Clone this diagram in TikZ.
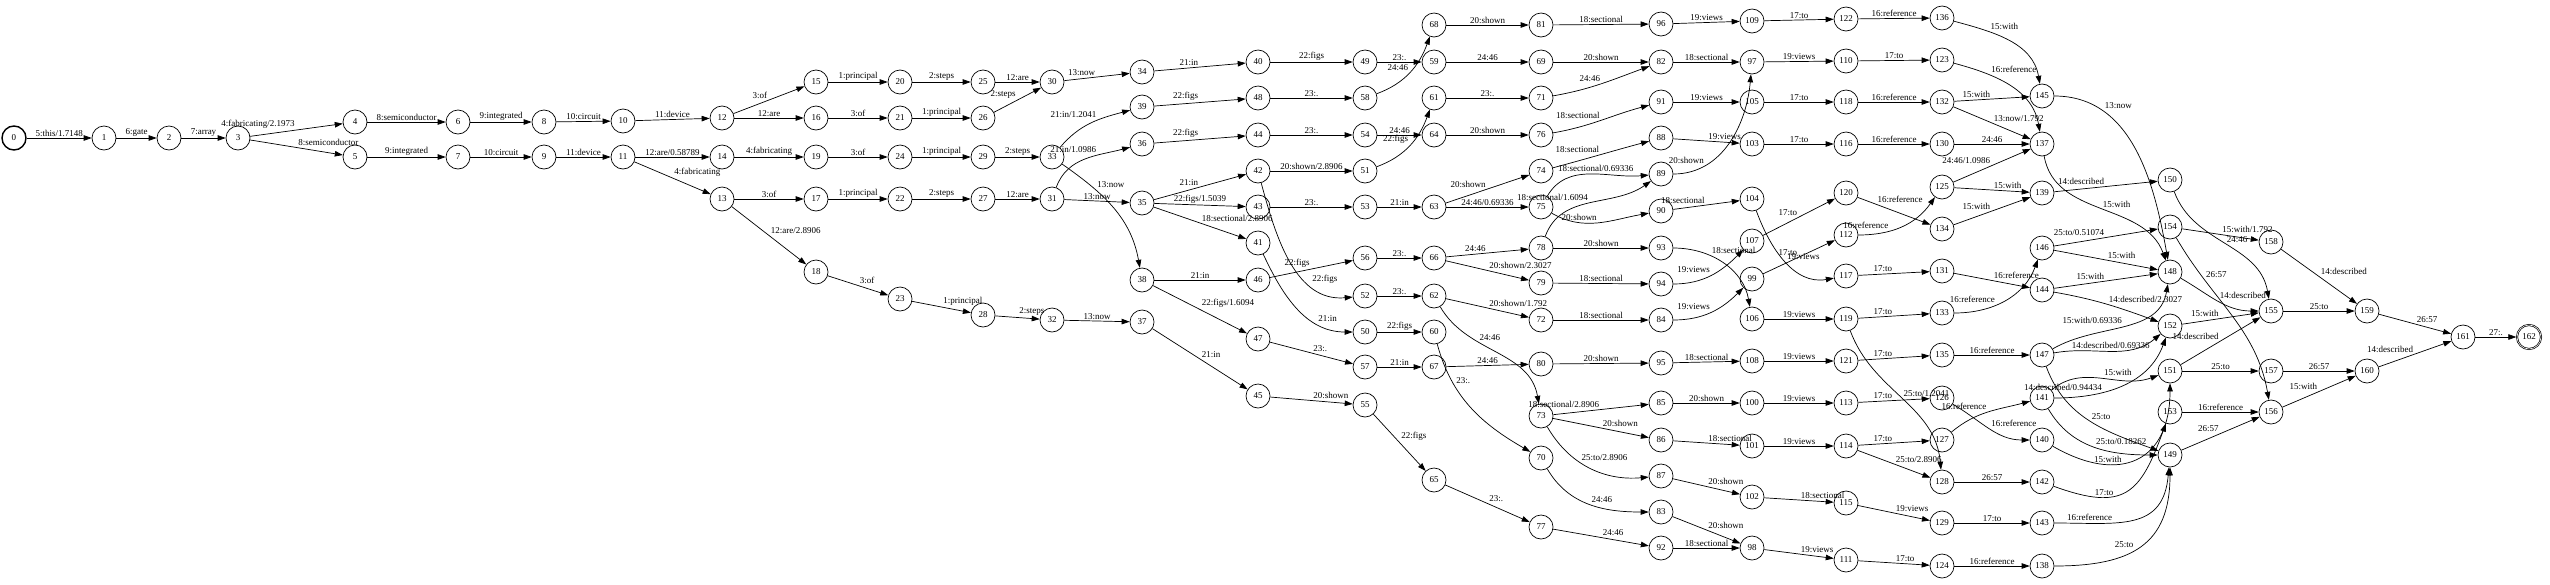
\documentclass[tikz,border=0pt]{standalone}
\usepackage{fontspec}
\setmainfont{Liberation Serif}
\usetikzlibrary{arrows.meta, automata, positioning}

\begin{document}
\begin{tikzpicture}[x=1pt,y=1pt,auto,>={Triangle[length=8pt,width=5.5pt]},
    font=\fontsize{9}{10}\selectfont,inner sep=1.5pt,line width=0.7pt]
  \tikzstyle{every state}=[minimum size=24pt,inner sep=0pt,line width=0.7pt]
  \tikzstyle{every accepting state}=[double distance=3pt,minimum size=28pt]
  \useasboundingbox (0,0) rectangle (2550,-584);

  \node[state,line width=1.4pt] (q_0) at (14,-138) {0};
  \node[state] (q_1) at (104,-138) {1};
  \node[state] (q_2) at (169,-138) {2};
  \node[state] (q_3) at (238,-138) {3};
  \node[state] (q_4) at (355,-122) {4};
  \node[state] (q_5) at (355,-157) {5};
  \node[state] (q_6) at (458,-122) {6};
  \node[state] (q_7) at (458,-157) {7};
  \node[state] (q_8) at (544,-122) {8};
  \node[state] (q_9) at (544,-157) {9};
  \node[state] (q_10) at (623,-121) {10};
  \node[state] (q_11) at (623,-157) {11};
  \node[state] (q_12) at (722,-118) {12};
  \node[state] (q_13) at (722,-199) {13};
  \node[state] (q_14) at (722,-157) {14};
  \node[state] (q_15) at (816,-82) {15};
  \node[state] (q_16) at (816,-118) {16};
  \node[state] (q_17) at (816,-199) {17};
  \node[state] (q_18) at (816,-272) {18};
  \node[state] (q_19) at (816,-157) {19};
  \node[state] (q_20) at (900,-82) {20};
  \node[state] (q_21) at (900,-118) {21};
  \node[state] (q_22) at (900,-199) {22};
  \node[state] (q_23) at (900,-299) {23};
  \node[state] (q_24) at (900,-157) {24};
  \node[state] (q_25) at (983,-82) {25};
  \node[state] (q_26) at (983,-118) {26};
  \node[state] (q_27) at (983,-199) {27};
  \node[state] (q_28) at (983,-315) {28};
  \node[state] (q_29) at (983,-157) {29};
  \node[state] (q_30) at (1052,-82) {30};
  \node[state] (q_31) at (1052,-199) {31};
  \node[state] (q_32) at (1052,-320) {32};
  \node[state] (q_33) at (1052,-157) {33};
  \node[state] (q_34) at (1142,-72) {34};
  \node[state] (q_35) at (1142,-203) {35};
  \node[state] (q_36) at (1142,-144) {36};
  \node[state] (q_37) at (1142,-322) {37};
  \node[state] (q_38) at (1142,-280) {38};
  \node[state] (q_39) at (1142,-107) {39};
  \node[state] (q_40) at (1258,-62) {40};
  \node[state] (q_41) at (1258,-243) {41};
  \node[state] (q_42) at (1258,-171) {42};
  \node[state] (q_43) at (1258,-207) {43};
  \node[state] (q_44) at (1258,-135) {44};
  \node[state] (q_45) at (1258,-396) {45};
  \node[state] (q_46) at (1258,-280) {46};
  \node[state] (q_47) at (1258,-339) {47};
  \node[state] (q_48) at (1258,-98) {48};
  \node[state] (q_49) at (1365,-62) {49};
  \node[state] (q_50) at (1365,-332) {50};
  \node[state] (q_51) at (1365,-171) {51};
  \node[state] (q_52) at (1365,-296) {52};
  \node[state] (q_53) at (1365,-207) {53};
  \node[state] (q_54) at (1365,-135) {54};
  \node[state] (q_55) at (1365,-405) {55};
  \node[state] (q_56) at (1365,-258) {56};
  \node[state] (q_57) at (1365,-367) {57};
  \node[state] (q_58) at (1365,-98) {58};
  \node[state] (q_59) at (1434,-62) {59};
  \node[state] (q_60) at (1434,-332) {60};
  \node[state] (q_61) at (1434,-98) {61};
  \node[state] (q_62) at (1434,-296) {62};
  \node[state] (q_63) at (1434,-207) {63};
  \node[state] (q_64) at (1434,-135) {64};
  \node[state] (q_65) at (1434,-480) {65};
  \node[state] (q_66) at (1434,-258) {66};
  \node[state] (q_67) at (1434,-367) {67};
  \node[state] (q_68) at (1434,-25) {68};
  \node[state] (q_69) at (1541,-62) {69};
  \node[state] (q_70) at (1541,-458) {70};
  \node[state] (q_71) at (1541,-98) {71};
  \node[state] (q_72) at (1541,-320) {72};
  \node[state] (q_73) at (1541,-416) {73};
  \node[state] (q_74) at (1541,-171) {74};
  \node[state] (q_75) at (1541,-207) {75};
  \node[state] (q_76) at (1541,-135) {76};
  \node[state] (q_77) at (1541,-527) {77};
  \node[state] (q_78) at (1541,-248) {78};
  \node[state] (q_79) at (1541,-283) {79};
  \node[state] (q_80) at (1541,-364) {80};
  \node[state] (q_81) at (1541,-25) {81};
  \node[state] (q_82) at (1661,-62) {82};
  \node[state] (q_83) at (1661,-512) {83};
  \node[state] (q_84) at (1661,-320) {84};
  \node[state] (q_85) at (1661,-403) {85};
  \node[state] (q_86) at (1661,-440) {86};
  \node[state] (q_87) at (1661,-476) {87};
  \node[state] (q_88) at (1661,-138) {88};
  \node[state] (q_89) at (1661,-174) {89};
  \node[state] (q_90) at (1661,-211) {90};
  \node[state] (q_91) at (1661,-102) {91};
  \node[state] (q_92) at (1661,-548) {92};
  \node[state] (q_93) at (1661,-248) {93};
  \node[state] (q_94) at (1661,-284) {94};
  \node[state] (q_95) at (1661,-363) {95};
  \node[state] (q_96) at (1661,-24) {96};
  \node[state] (q_97) at (1752,-62) {97};
  \node[state] (q_98) at (1752,-548) {98};
  \node[state] (q_99) at (1752,-279) {99};
  \node[state] (q_100) at (1752,-403) {100};
  \node[state] (q_101) at (1752,-446) {101};
  \node[state] (q_102) at (1752,-497) {102};
  \node[state] (q_103) at (1752,-144) {103};
  \node[state] (q_104) at (1752,-199) {104};
  \node[state] (q_105) at (1752,-102) {105};
  \node[state] (q_106) at (1752,-319) {106};
  \node[state] (q_107) at (1752,-241) {107};
  \node[state] (q_108) at (1752,-361) {108};
  \node[state] (q_109) at (1752,-21) {109};
  \node[state] (q_110) at (1846,-61) {110};
  \node[state] (q_111) at (1846,-560) {111};
  \node[state] (q_112) at (1846,-235) {112};
  \node[state] (q_113) at (1846,-403) {113};
  \node[state] (q_114) at (1846,-446) {114};
  \node[state] (q_115) at (1846,-503) {115};
  \node[state] (q_116) at (1846,-144) {116};
  \node[state] (q_117) at (1846,-276) {117};
  \node[state] (q_118) at (1846,-102) {118};
  \node[state] (q_119) at (1846,-319) {119};
  \node[state] (q_120) at (1846,-193) {120};
  \node[state] (q_121) at (1846,-361) {121};
  \node[state] (q_122) at (1846,-19) {122};
  \node[state] (q_123) at (1942,-60) {123};
  \node[state] (q_124) at (1942,-566) {124};
  \node[state] (q_125) at (1942,-187) {125};
  \node[state] (q_126) at (1942,-398) {126};
  \node[state] (q_127) at (1942,-440) {127};
  \node[state] (q_128) at (1942,-482) {128};
  \node[state] (q_129) at (1942,-523) {129};
  \node[state] (q_130) at (1942,-144) {130};
  \node[state] (q_131) at (1942,-271) {131};
  \node[state] (q_132) at (1942,-102) {132};
  \node[state] (q_133) at (1942,-313) {133};
  \node[state] (q_134) at (1942,-229) {134};
  \node[state] (q_135) at (1942,-355) {135};
  \node[state] (q_136) at (1942,-18) {136};
  \node[state] (q_137) at (2042,-144) {137};
  \node[state] (q_138) at (2042,-566) {138};
  \node[state] (q_139) at (2042,-193) {139};
  \node[state] (q_140) at (2042,-440) {140};
  \node[state] (q_141) at (2042,-398) {141};
  \node[state] (q_142) at (2042,-482) {142};
  \node[state] (q_143) at (2042,-523) {143};
  \node[state] (q_144) at (2042,-290) {144};
  \node[state] (q_145) at (2042,-96) {145};
  \node[state] (q_146) at (2042,-248) {146};
  \node[state] (q_147) at (2042,-355) {147};
  \node[state] (q_148) at (2170,-272) {148};
  \node[state] (q_149) at (2170,-455) {149};
  \node[state] (q_150) at (2170,-180) {150};
  \node[state] (q_151) at (2170,-371) {151};
  \node[state] (q_152) at (2170,-326) {152};
  \node[state] (q_153) at (2170,-412) {153};
  \node[state] (q_154) at (2170,-227) {154};
  \node[state] (q_155) at (2271,-311) {155};
  \node[state] (q_156) at (2271,-412) {156};
  \node[state] (q_157) at (2271,-371) {157};
  \node[state] (q_158) at (2271,-242) {158};
  \node[state] (q_159) at (2367,-311) {159};
  \node[state] (q_160) at (2367,-371) {160};
  \node[state] (q_161) at (2463,-337) {161};
  \node[state,accepting] (q_162) at (2529,-337) {162};

  \path[->]
  (q_0) edge node {5:this/1.7148} (q_1)
  (q_1) edge node {6:gate} (q_2)
  (q_2) edge node {7:array} (q_3)
  (q_3) edge node {4:fabricating/2.1973} (q_4)
  (q_3) edge node {8:semiconductor} (q_5)
  (q_4) edge node {8:semiconductor} (q_6)
  (q_5) edge node {9:integrated} (q_7)
  (q_6) edge node {9:integrated} (q_8)
  (q_7) edge node {10:circuit} (q_9)
  (q_8) edge node {10:circuit} (q_10)
  (q_9) edge node {11:device} (q_11)
  (q_10) edge node {11:device} (q_12)
  (q_11) edge node {12:are/0.58789} (q_14)
  (q_11) edge node {4:fabricating} (q_13)
  (q_12) edge node {3:of} (q_15)
  (q_12) edge node {12:are} (q_16)
  (q_13) edge node {3:of} (q_17)
  (q_13) edge node {12:are/2.8906} (q_18)
  (q_14) edge node {4:fabricating} (q_19)
  (q_15) edge node {1:principal} (q_20)
  (q_16) edge node {3:of} (q_21)
  (q_17) edge node {1:principal} (q_22)
  (q_18) edge node {3:of} (q_23)
  (q_19) edge node {3:of} (q_24)
  (q_20) edge node {2:steps} (q_25)
  (q_21) edge node {1:principal} (q_26)
  (q_22) edge node {2:steps} (q_27)
  (q_23) edge node {1:principal} (q_28)
  (q_24) edge node {1:principal} (q_29)
  (q_25) edge node {12:are} (q_30)
  (q_26) edge node {2:steps} (q_30)
  (q_27) edge node {12:are} (q_31)
  (q_28) edge node {2:steps} (q_32)
  (q_29) edge node {2:steps} (q_33)
  (q_30) edge node {13:now} (q_34)
  (q_31) edge node {13:now} (q_35)
  (q_31) edge [out=70,in=195] node[pos=0.65] {21:in/1.0986} (q_36)
  (q_32) edge node {13:now} (q_37)
  (q_33) edge [out=50,in=195] node[pos=0.6] {21:in/1.2041} (q_39)
  (q_33) edge [out=-35,in=100] node[pos=0.3] {13:now} (q_38)
  (q_34) edge node {21:in} (q_40)
  (q_35) edge node {21:in} (q_42)
  (q_35) edge node {22:figs/1.5039} (q_43)
  (q_35) edge node {18:sectional/2.8906} (q_41)
  (q_36) edge node {22:figs} (q_44)
  (q_37) edge node {21:in} (q_45)
  (q_38) edge node {21:in} (q_46)
  (q_38) edge node {22:figs/1.6094} (q_47)
  (q_39) edge node {22:figs} (q_48)
  (q_40) edge node {22:figs} (q_49)
  (q_41) edge [out=-65,in=180] node[pos=0.7] {21:in} (q_50)
  (q_42) edge [out=-75,in=185] node[pos=0.7] {22:figs} (q_52)
  (q_42) edge node {20:shown/2.8906} (q_51)
  (q_43) edge node {23:.} (q_53)
  (q_44) edge node {23:.} (q_54)
  (q_45) edge node {20:shown} (q_55)
  (q_46) edge node {22:figs} (q_56)
  (q_47) edge node {23:.} (q_57)
  (q_48) edge node {23:.} (q_58)
  (q_49) edge node {23:.} (q_59)
  (q_50) edge node {22:figs} (q_60)
  (q_51) edge [out=20,in=250] node {22:figs} (q_61)
  (q_52) edge node {23:.} (q_62)
  (q_53) edge node {21:in} (q_63)
  (q_54) edge node {24:46} (q_64)
  (q_55) edge node {22:figs} (q_65)
  (q_56) edge node {23:.} (q_66)
  (q_57) edge node {21:in} (q_67)
  (q_58) edge [out=20,in=250] node {24:46} (q_68)
  (q_59) edge node {24:46} (q_69)
  (q_60) edge [out=-75,in=150] node[pos=0.3] {23:.} (q_70)
  (q_61) edge node {23:.} (q_71)
  (q_62) edge node {20:shown/1.792} (q_72)
  (q_62) edge [out=-60,in=100] node[pos=0.35] {24:46} (q_73)
  (q_63) edge node {20:shown} (q_74)
  (q_63) edge node {24:46/0.69336} (q_75)
  (q_64) edge node {20:shown} (q_76)
  (q_65) edge node {23:.} (q_77)
  (q_66) edge node {24:46} (q_78)
  (q_66) edge node {20:shown/2.3027} (q_79)
  (q_67) edge node {24:46} (q_80)
  (q_68) edge node {20:shown} (q_81)
  (q_69) edge node {20:shown} (q_82)
  (q_70) edge [out=-60,in=180] node {24:46} (q_83)
  (q_71) edge [out=10,in=200] node {24:46} (q_82)
  (q_72) edge node {18:sectional} (q_84)
  (q_73) edge node {18:sectional/2.8906} (q_85)
  (q_73) edge node {20:shown} (q_86)
  (q_73) edge [out=-60,in=185] node[pos=0.4] {25:to/2.8906} (q_87)
  (q_74) edge [out=15,in=195] node {18:sectional} (q_88)
  (q_75) edge [out=60,in=185] node[pos=0.55] {18:sectional/0.69336} (q_89)
  (q_75) edge [out=-30,in=190] node {20:shown} (q_90)
  (q_76) edge [out=10,in=195] node {18:sectional} (q_91)
  (q_77) edge node {24:46} (q_92)
  (q_78) edge [out=70,in=215] node {18:sectional/1.6094} (q_89)
  (q_78) edge node {20:shown} (q_93)
  (q_79) edge node {18:sectional} (q_94)
  (q_80) edge node {20:shown} (q_95)
  (q_81) edge node {18:sectional} (q_96)
  (q_82) edge node {18:sectional} (q_97)
  (q_83) edge node {20:shown} (q_98)
  (q_84) edge [out=0,in=225] node {19:views} (q_99)
  (q_85) edge node {20:shown} (q_100)
  (q_86) edge node {18:sectional} (q_101)
  (q_87) edge node {20:shown} (q_102)
  (q_88) edge node {19:views} (q_103)
  (q_89) edge [out=0,in=265] node[pos=0.25] {20:shown} (q_97)
  (q_90) edge node {18:sectional} (q_104)
  (q_91) edge node {19:views} (q_105)
  (q_92) edge node {18:sectional} (q_98)
  (q_93) edge [out=0,in=100] node[pos=0.35] {18:sectional} (q_106)
  (q_94) edge [out=0,in=225] node {19:views} (q_107)
  (q_95) edge node {18:sectional} (q_108)
  (q_96) edge node {19:views} (q_109)
  (q_97) edge node {19:views} (q_110)
  (q_98) edge node {19:views} (q_111)
  (q_99) edge node {17:to} (q_112)
  (q_100) edge node {19:views} (q_113)
  (q_101) edge node {19:views} (q_114)
  (q_102) edge node {18:sectional} (q_115)
  (q_103) edge node {17:to} (q_116)
  (q_104) edge [out=-70,in=190] node {19:views} (q_117)
  (q_105) edge node {17:to} (q_118)
  (q_106) edge node {19:views} (q_119)
  (q_107) edge node {17:to} (q_120)
  (q_108) edge node {19:views} (q_121)
  (q_109) edge node {17:to} (q_122)
  (q_110) edge node {17:to} (q_123)
  (q_111) edge node {17:to} (q_124)
  (q_112) edge [out=0,in=235] node[pos=0.35] {16:reference} (q_125)
  (q_113) edge node {17:to} (q_126)
  (q_114) edge node {17:to} (q_127)
  (q_114) edge node {25:to/2.8906} (q_128)
  (q_115) edge node {19:views} (q_129)
  (q_116) edge node {16:reference} (q_130)
  (q_117) edge node {17:to} (q_131)
  (q_118) edge node {16:reference} (q_132)
  (q_119) edge node {17:to} (q_133)
  (q_119) edge [out=-70,in=95] node {25:to/1.2041} (q_128)
  (q_120) edge node[pos=0.25] {16:reference} (q_134)
  (q_121) edge node {17:to} (q_135)
  (q_122) edge node {16:reference} (q_136)
  (q_123) edge [out=-15,in=100] node[pos=0.3] {16:reference} (q_137)
  (q_124) edge node {16:reference} (q_138)
  (q_125) edge node {24:46/1.0986} (q_137)
  (q_125) edge node {15:with} (q_139)
  (q_126) edge [out=-30,in=180] node {16:reference} (q_140)
  (q_127) edge [out=40,in=195] node {16:reference} (q_141)
  (q_128) edge node {26:57} (q_142)
  (q_129) edge node {17:to} (q_143)
  (q_130) edge node {24:46} (q_137)
  (q_131) edge node {16:reference} (q_144)
  (q_132) edge node {15:with} (q_145)
  (q_132) edge node {13:now/1.792} (q_137)
  (q_133) edge [out=0,in=250] node[pos=0.4] {16:reference} (q_146)
  (q_134) edge node {15:with} (q_139)
  (q_135) edge node {16:reference} (q_147)
  (q_136) edge [out=-15,in=100] node[pos=0.3] {15:with} (q_145)
  (q_137) edge [out=-80,in=110] node {15:with} (q_148)
  (q_138) edge [out=0,in=270,looseness=1.3] node[pos=0.45] {25:to} (q_149)
  (q_139) edge node {14:described} (q_150)
  (q_140) edge [out=-30,in=270,looseness=1.5] node[pos=0.3] {15:with} (q_151)
  (q_141) edge [out=40,in=200] node {15:with} (q_151)
  (q_141) edge [out=0,in=250] node[pos=0.35] {14:described/0.94434} (q_152)
  (q_141) edge [out=-60,in=180] node {25:to/0.18262} (q_149)
  (q_142) edge [out=-20,in=250,looseness=1.5] node[pos=0.3] {17:to} (q_153)
  (q_143) edge [out=0,in=265,looseness=1.3] node[pos=0.35] {16:reference} (q_149)
  (q_144) edge node {15:with} (q_148)
  (q_144) edge [out=-10,in=160] node {14:described/2.3027} (q_152)
  (q_145) edge [out=0,in=100] node[pos=0.25] {13:now} (q_148)
  (q_146) edge node {25:to/0.51074} (q_154)
  (q_146) edge node {15:with} (q_148)
  (q_147) edge [out=30,in=260] node {15:with/0.69336} (q_148)
  (q_147) edge [out=10,in=220] node {14:described/0.69336} (q_152)
  (q_147) edge [out=-70,in=160] node {25:to} (q_149)
  (q_148) edge [out=-30,in=180] node {14:described} (q_155)
  (q_149) edge node {26:57} (q_156)
  (q_150) edge [out=-70,in=100] node {24:46} (q_155)
  (q_151) edge node {14:described} (q_155)
  (q_151) edge node {25:to} (q_157)
  (q_152) edge node {15:with} (q_155)
  (q_153) edge node {16:reference} (q_156)
  (q_154) edge node {15:with/1.792} (q_158)
  (q_154) edge [out=-60,in=100] node[pos=0.25] {26:57} (q_156)
  (q_155) edge node {25:to} (q_159)
  (q_156) edge node {15:with} (q_160)
  (q_157) edge node {26:57} (q_160)
  (q_158) edge node {14:described} (q_159)
  (q_159) edge node {26:57} (q_161)
  (q_160) edge node {14:described} (q_161)
  (q_161) edge node {27:.} (q_162)
  ;
\end{tikzpicture}
\end{document}
